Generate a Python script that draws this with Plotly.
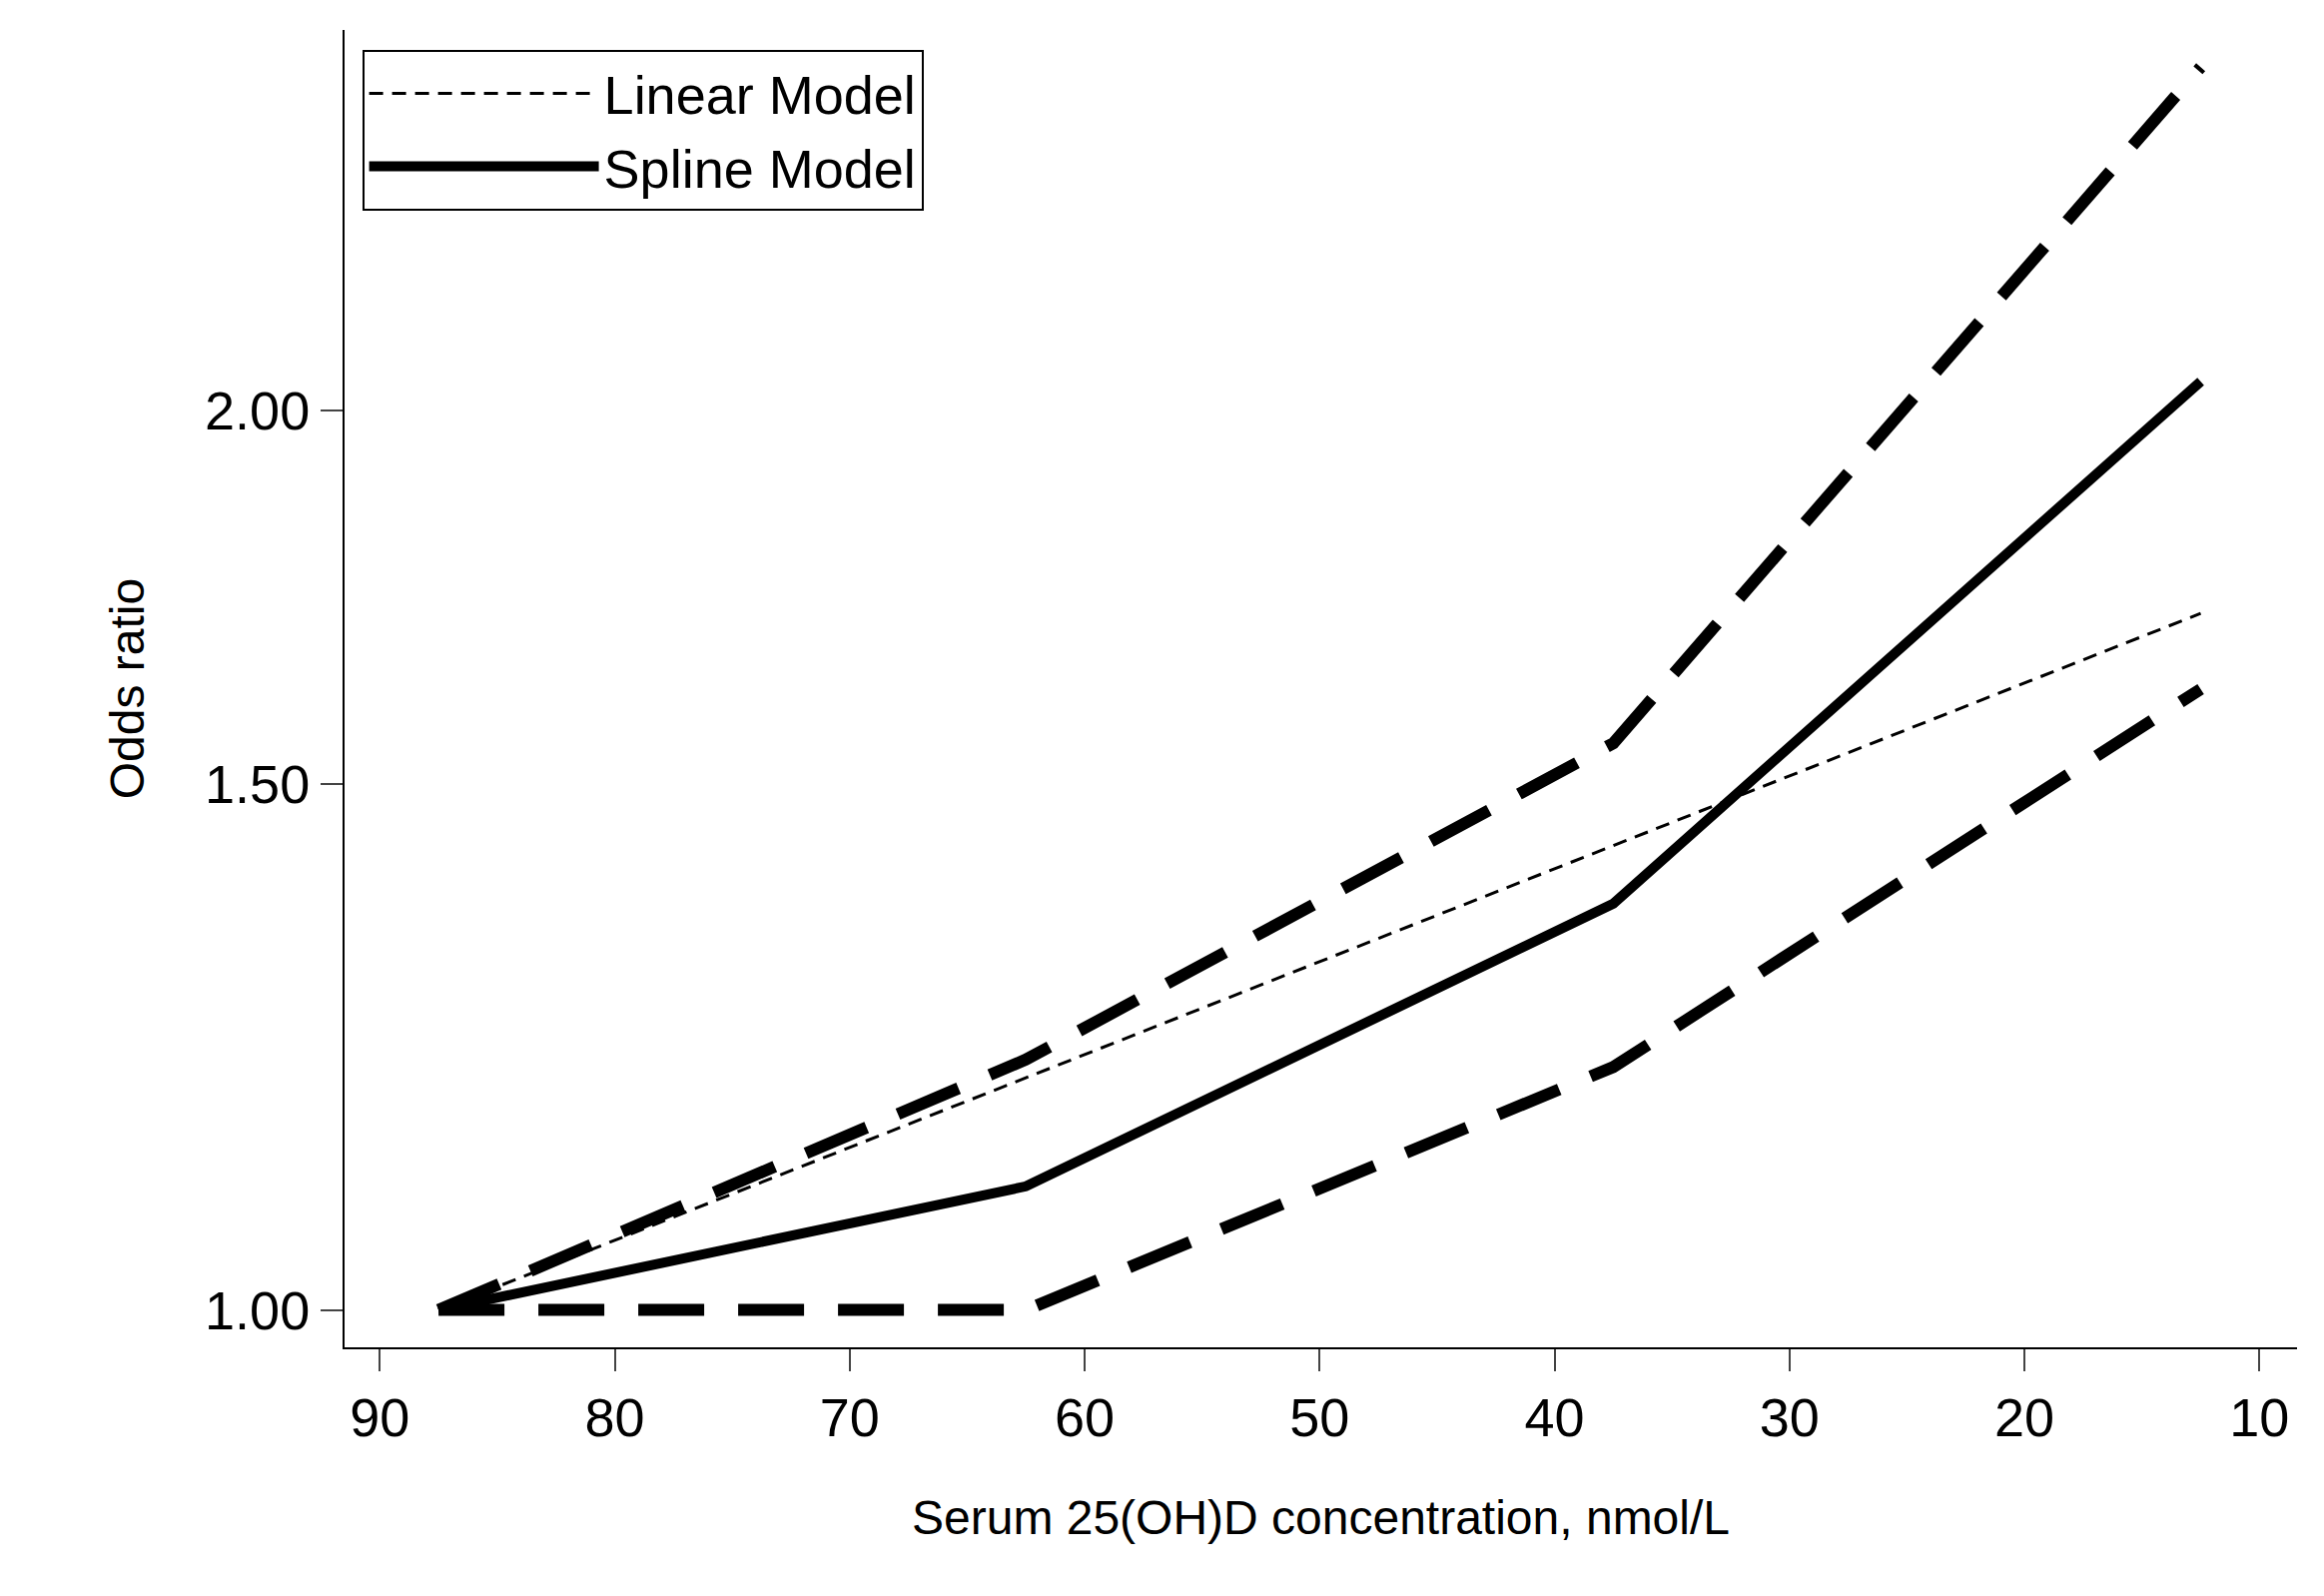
import plotly.graph_objects as go

# serum 25(OH)D category midpoints, nmol/L
conc = [87.5, 62.5, 37.5, 12.5]

spline_or = [1.0, 1.10, 1.368, 2.046]
upper_ci = [1.0, 1.213, 1.548, 2.607]
lower_ci = [1.0, 1.0, 1.206, 1.614]
linear_or = [1.0, 1.196, 1.430, 1.711]

ytick_vals = [1.0, 1.5, 2.0]
ytick_text = ["1.00", "1.50", "2.00"]
xtick_vals = [90, 80, 70, 60, 50, 40, 30, 20, 10]

fig = go.Figure()

fig.add_trace(go.Scatter(x=conc, y=upper_ci, mode="lines", showlegend=False,
                         line=dict(color="black", width=12, dash="66px,34px")))
fig.add_trace(go.Scatter(x=conc, y=lower_ci, mode="lines", showlegend=False,
                         line=dict(color="black", width=12, dash="66px,34px")))
fig.add_trace(go.Scatter(x=conc, y=linear_or, mode="lines", name="Linear Model",
                         line=dict(color="black", width=3, dash="14px,9px")))
fig.add_trace(go.Scatter(x=conc, y=spline_or, mode="lines", name="Spline Model",
                         line=dict(color="black", width=10)))

font = dict(family="Arial, Liberation Sans", color="black")

fig.update_layout(
    width=2327, height=1598,
    paper_bgcolor="white", plot_bgcolor="white",
    margin=dict(l=337, r=35, t=22, b=257),
    font=dict(size=54, **font),
    legend=dict(x=0.009, y=0.985, xanchor="left", yanchor="top",
                bordercolor="black", borderwidth=2, bgcolor="white",
                itemwidth=230, tracegroupgap=20,
                font=dict(size=54, **font)),
    xaxis=dict(
        title=dict(text="Serum 25(OH)D concentration, nmol/L", standoff=55,
                   font=dict(size=48, **font)),
        range=[91.5, 8.4], tickvals=xtick_vals,
        showline=True, linecolor="black", linewidth=2,
        ticks="outside", ticklen=22, tickwidth=2, showgrid=False, zeroline=False,
    ),
    yaxis=dict(
        title=dict(text="Odds ratio", standoff=45, font=dict(size=48, **font)),
        type="log", range=[-0.0125, 0.4286],
        tickvals=ytick_vals, ticktext=ytick_text,
        showline=True, linecolor="black", linewidth=2,
        ticks="outside", ticklen=22, tickwidth=2, showgrid=False, zeroline=False,
    ),
)

fig.write_html("out.html")
